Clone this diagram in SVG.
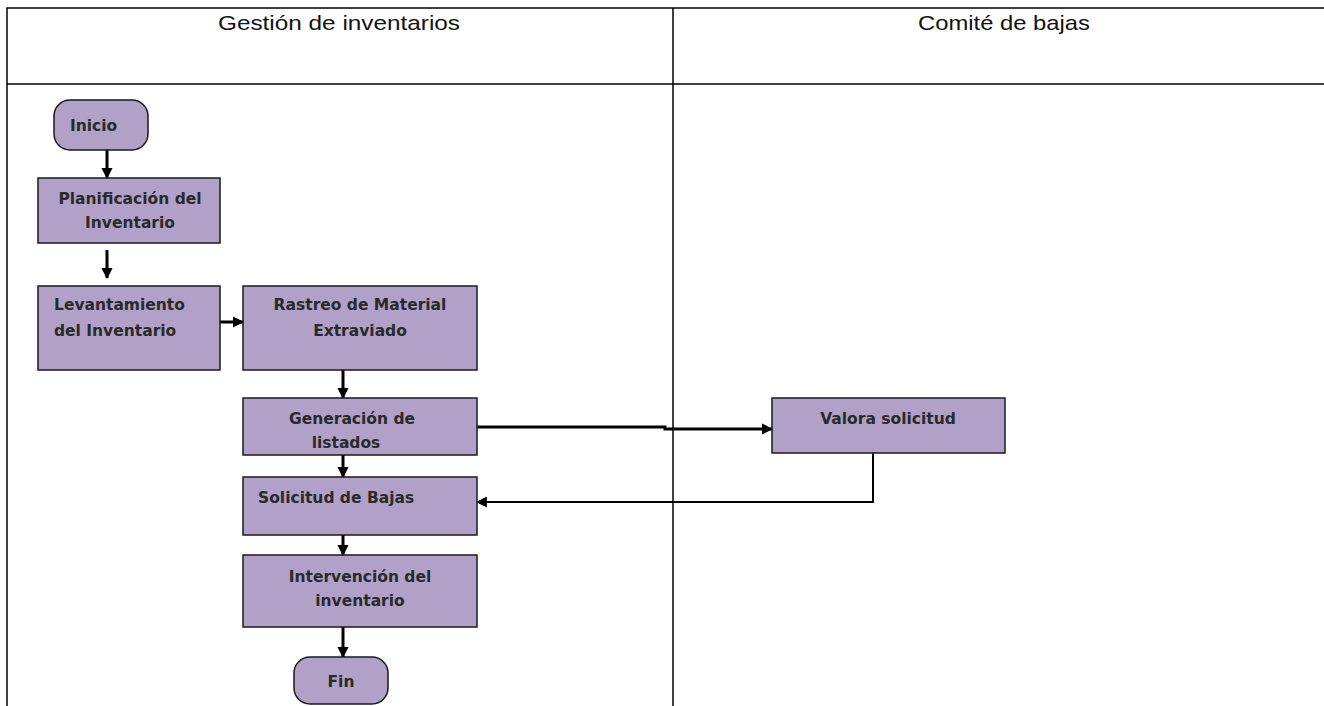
<svg xmlns="http://www.w3.org/2000/svg" width="1324" height="706" viewBox="0 0 1324 706">
  <defs>
    <marker id="arrow" viewBox="0 0 10 10" refX="9" refY="5" markerWidth="3.8" markerHeight="3.8" orient="auto" markerUnits="strokeWidth">
      <path d="M0,0 L10,5 L0,10 z" fill="#000"/>
    </marker>
    <marker id="arrowThin" viewBox="0 0 10 10" refX="9" refY="5" markerWidth="5.5" markerHeight="5.5" orient="auto" markerUnits="strokeWidth">
      <path d="M0,0 L10,5 L0,10 z" fill="#000"/>
    </marker>
  </defs>
  <style>
    .lane { fill: none; stroke: #000; stroke-width: 1.5; }
    .title { font-family: "Liberation Sans", Arial, sans-serif; font-size: 21px; fill: #111; text-anchor: middle; }
    .box { fill: #b1a0c7; stroke: #1a1a1a; stroke-width: 1.5; }
    .label { font-family: "DejaVu Sans", Verdana, sans-serif; font-weight: bold; font-size: 15.5px; fill: #2a2a2a; }
    .mid { text-anchor: middle; }
    .flow { fill: none; stroke: #000; stroke-width: 3; marker-end: url(#arrow); }
    .flowThin { fill: none; stroke: #000; stroke-width: 2; marker-end: url(#arrowThin); }
  </style>

  <rect width="1324" height="706" fill="#fff"/>

  <!-- swimlane frame -->
  <g id="lanes">
    <path class="lane" d="M7,706 V8 H1324"/>
    <path class="lane" d="M7,84 H1324"/>
    <path class="lane" d="M673,8 V706"/>
    <text class="title" x="339" y="30" textLength="242" lengthAdjust="spacingAndGlyphs">Gestión de inventarios</text>
    <text class="title" x="1004" y="30" textLength="172" lengthAdjust="spacingAndGlyphs">Comité de bajas</text>
  </g>

  <!-- connectors -->
  <g id="connectors">
    <path class="flow" d="M107,150 V178"/>
    <path class="flow" d="M107,250 V278"/>
    <path class="flow" d="M220,322 H243"/>
    <path class="flow" d="M343,370 V398"/>
    <path class="flow" d="M343,455 V477"/>
    <path class="flow" d="M477,427 H665 V429 H772"/>
    <path class="flowThin" d="M873,453 V502 H477"/>
    <path class="flow" d="M343,535 V555"/>
    <path class="flow" d="M343,627 V657"/>
  </g>

  <g id="inicio">
    <rect class="box" x="54" y="100" width="94" height="50" rx="16"/>
    <text class="label" x="70" y="131">Inicio</text>
  </g>

  <g id="planificacion">
    <rect class="box" x="38" y="178" width="182" height="65"/>
    <text class="label mid" x="130" y="204">Planificación del</text>
    <text class="label mid" x="130" y="228">Inventario</text>
  </g>

  <g id="levantamiento">
    <rect class="box" x="38" y="286" width="182" height="84"/>
    <text class="label" x="54" y="310">Levantamiento</text>
    <text class="label" x="54" y="336">del Inventario</text>
  </g>

  <g id="rastreo">
    <rect class="box" x="243" y="286" width="234" height="84"/>
    <text class="label mid" x="360" y="310">Rastreo de Material</text>
    <text class="label mid" x="360" y="336">Extraviado</text>
  </g>

  <g id="generacion">
    <rect class="box" x="243" y="398" width="234" height="57"/>
    <text class="label mid" x="352" y="424">Generación de</text>
    <text class="label mid" x="346" y="448">listados</text>
  </g>

  <g id="valora">
    <rect class="box" x="772" y="398" width="233" height="55"/>
    <text class="label mid" x="888" y="424">Valora solicitud</text>
  </g>

  <g id="solicitud">
    <rect class="box" x="243" y="477" width="234" height="58"/>
    <text class="label" x="258" y="503">Solicitud de Bajas</text>
  </g>

  <g id="intervencion">
    <rect class="box" x="243" y="555" width="234" height="72"/>
    <text class="label mid" x="360" y="582">Intervención del</text>
    <text class="label mid" x="360" y="606">inventario</text>
  </g>

  <g id="fin">
    <rect class="box" x="294" y="657" width="94" height="47" rx="16"/>
    <text class="label mid" x="341" y="687">Fin</text>
  </g>
</svg>
